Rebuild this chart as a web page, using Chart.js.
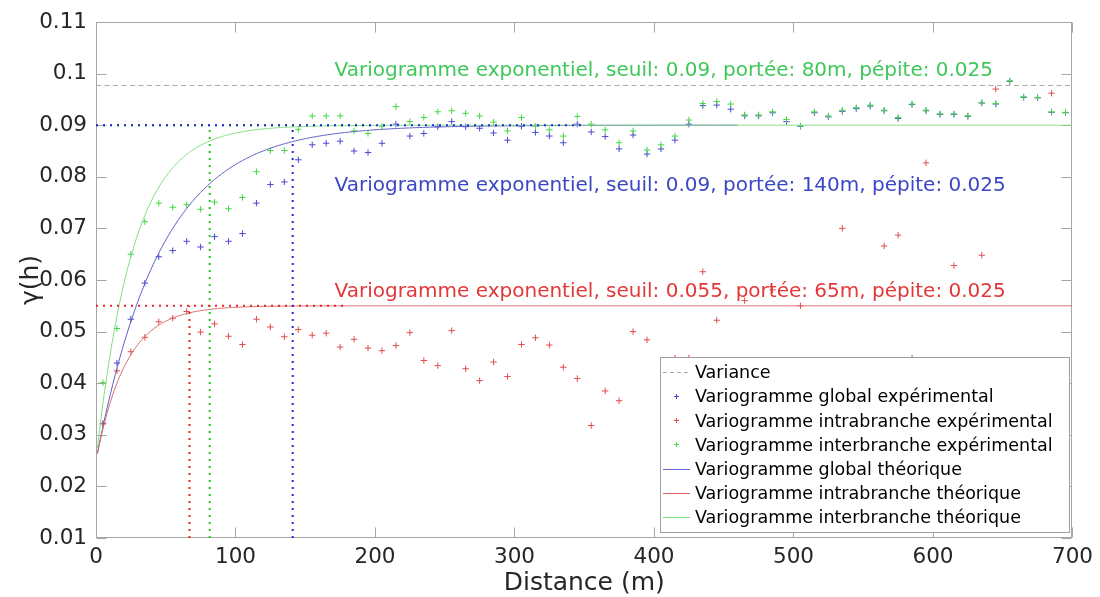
<!DOCTYPE html>
<html>
<head>
  <meta charset="utf-8">
  <title>Variogrammes</title>
  <script src="https://cdn.jsdelivr.net/npm/chart.js"></script>
  <style>
    body {
      margin: 0;
      padding: 0;
      background: #fff;
    }
    canvas {
      display: block;
    }
  </style>
</head>
<body>
  <canvas id="vario" width="1100" height="597"></canvas>

  <script>
    // distances des classes (m)
    const distances = [5, 15, 25, 35, 45, 55, 65, 75, 85, 95,
      105, 115, 125, 135, 145, 155, 165, 175, 185, 195,
      205, 215, 225, 235, 245, 255, 265, 275, 285, 295,
      305, 315, 325, 335, 345, 355, 365, 375, 385, 395,
      405, 415, 425, 435, 445, 455, 465, 475, 485, 495,
      505, 515, 525, 535, 545, 555, 565, 575, 585, 595,
      605, 615, 625, 635, 645, 655, 665, 675, 685, 695];

    // variogrammes expérimentaux (null = point caché par la légende)
    const globalExp = [0.0322, 0.0439, 0.0524, 0.0594, 0.0645, 0.0657, 0.0675, 0.0664, 0.0684, 0.0675,
      0.0690, 0.0749, 0.0785, 0.0790, 0.0833, 0.0862, 0.0865, 0.0869, 0.0850, 0.0847,
      0.0865, 0.0902, 0.0879, 0.0884, 0.0897, 0.0907, 0.0897, 0.0894, 0.0885, 0.0871,
      0.0898, 0.0886, 0.0879, 0.0866, 0.0902, 0.0887, 0.0878, 0.0854, 0.0881, 0.0844,
      0.0854, 0.0871, 0.0902, 0.0938, 0.0939, 0.0931, 0.0918, 0.0918, 0.0924, 0.0907,
      0.0898, 0.0924, 0.0916, 0.0927, 0.0932, 0.0937, 0.0928, 0.0913, 0.0940, 0.0928,
      0.0921, 0.0921, 0.0917, 0.0943, 0.0941, 0.0985, 0.0954, 0.0953, 0.0925, 0.0924];

    const intraExp = [0.0321, 0.0424, 0.0461, 0.0489, 0.0519, 0.0526, 0.0539, 0.0499, 0.0515, 0.0491,
      0.0475, 0.0524, 0.0509, 0.0490, 0.0504, 0.0493, 0.0497, 0.0470, 0.0485, 0.0468,
      0.0463, 0.0473, 0.0498, 0.0444, 0.0434, 0.0502, 0.0428, 0.0405, 0.0441, 0.0413,
      0.0475, 0.0488, 0.0474, 0.0431, 0.0409, 0.0318, 0.0385, 0.0366, 0.0500, 0.0484,
      null, 0.0449, 0.0449, 0.0616, 0.0522, null, 0.0560, null, 0.0581, null,
      0.0550, null, null, 0.0700, null, null, 0.0666, 0.0687, 0.0449, 0.0827,
      null, 0.0628, null, 0.0648, 0.0970, null, null, null, 0.0962, null];

    const interExp = [0.0401, 0.0506, 0.0650, 0.0713, 0.0749, 0.0741, 0.0746, 0.0737, 0.0751, 0.0738,
      0.0760, 0.0810, 0.0851, 0.0851, 0.0892, 0.0918, 0.0918, 0.0918, 0.0889, 0.0884,
      0.0898, 0.0936, 0.0907, 0.0915, 0.0926, 0.0928, 0.0923, 0.0918, 0.0906, 0.0889,
      0.0915, 0.0898, 0.0891, 0.0879, 0.0917, 0.0902, 0.0891, 0.0866, 0.0889, 0.0852,
      0.0862, 0.0879, 0.0910, 0.0942, 0.0946, 0.0941, 0.0920, 0.0920, 0.0926, 0.0911,
      0.0899, 0.0926, 0.0918, 0.0929, 0.0934, 0.0939, 0.0929, 0.0915, 0.0941, 0.0929,
      0.0922, 0.0922, 0.0918, 0.0944, 0.0942, 0.0986, 0.0955, 0.0954, 0.0926, 0.0925];

    // modèles exponentiels : global, intrabranche, interbranche
    const modelNames = ['global', 'intrabranche', 'interbranche'];
    const sills = [0.09, 0.055, 0.09];
    const ranges = [140, 65, 80];
    const nuggets = [0.025, 0.025, 0.025];
    const modelEnds = [460, 700, 700];      // longueur des courbes tracées
    const rangeMarks = [141, 67, 81.5];     // verticales pointillées
    const sillMarkEnds = [350, 178, 200];   // horizontales pointillées
    const variance = 0.0977;

    const xTicks = [0, 100, 200, 300, 400, 500, 600, 700];
    const yTicks = [0.01, 0.02, 0.03, 0.04, 0.05, 0.06, 0.07, 0.08, 0.09, 0.1, 0.11];

    const FONT = 'DejaVu Sans';
    const colPts = ['#4a4ad2', '#df4f4f', '#45d845'];
    const colCurve = ['#5c5cc6', '#da6c6c', '#82de82'];
    const colDot = ['#2828dc', '#e52828', '#1ec81e'];
    const colText = ['#3b47c6', '#e23838', '#3ec85a'];

    function pts(ys) {
      const out = [];
      ys.forEach((v, i) => { if (v !== null) out.push({ x: distances[i], y: v }); });
      return out;
    }

    function expModel(k) {
      const out = [];
      for (let h = 1; h <= modelEnds[k]; h++) {
        out.push({ x: h, y: nuggets[k] + (sills[k] - nuggets[k]) * (1 - Math.exp(-3 * h / ranges[k])) });
      }
      return out;
    }

    const expSeries = [globalExp, intraExp, interExp];
    const datasets = [];

    datasets.push({
      data: [{ x: 0, y: variance }, { x: 700, y: variance }],
      showLine: true, pointRadius: 0, borderColor: '#a8a8a8', borderWidth: 1, borderDash: [5, 3.5]
    });
    expSeries.forEach((s, k) => datasets.push({
      data: pts(s), pointStyle: 'cross', pointRadius: 3.2, pointBorderWidth: 1,
      pointBorderColor: colPts[k], pointBackgroundColor: colPts[k], showLine: false
    }));
    [0, 1, 2].forEach(k => datasets.push({
      data: expModel(k), showLine: true, pointRadius: 0, borderColor: colCurve[k], borderWidth: 1
    }));
    // repères pointillés portée / seuil (vert, rouge puis bleu au-dessus)
    [2, 1, 0].forEach(k => {
      datasets.push({
        data: [{ x: 0, y: sills[k] }, { x: sillMarkEnds[k], y: sills[k] }],
        showLine: true, pointRadius: 0, borderColor: colDot[k], borderWidth: 2, borderDash: [2, 5]
      });
      datasets.push({
        data: [{ x: rangeMarks[k], y: 0.01 }, { x: rangeMarks[k], y: sills[k] }],
        showLine: true, pointRadius: 0, borderColor: colDot[k], borderWidth: 2, borderDash: [2, 5]
      });
    });
    datasets.forEach((d, i) => { d.order = datasets.length - i; });

    const annotations = [
      { k: 2, x: 171, y: 0.0995, text: 'Variogramme exponentiel, seuil: 0.09, portée: 80m, pépite: 0.025' },
      { k: 0, x: 171, y: 0.0773, text: 'Variogramme exponentiel, seuil: 0.09, portée: 140m, pépite: 0.025' },
      { k: 1, x: 171, y: 0.0568, text: 'Variogramme exponentiel, seuil: 0.055, portée: 65m, pépite: 0.025' }
    ];

    const legendItems = [
      { kind: 'dash', color: '#a8a8a8', text: 'Variance' },
      { kind: 'cross', color: colPts[0], text: 'Variogramme global expérimental' },
      { kind: 'cross', color: colPts[1], text: 'Variogramme intrabranche expérimental' },
      { kind: 'cross', color: colPts[2], text: 'Variogramme interbranche expérimental' },
      { kind: 'line', color: '#6464d6', text: 'Variogramme global théorique' },
      { kind: 'line', color: '#e06464', text: 'Variogramme intrabranche théorique' },
      { kind: 'line', color: '#74e074', text: 'Variogramme interbranche théorique' }
    ];

    // cadre, graduations intérieures, textes et légende
    const decor = {
      id: 'decor',
      beforeDatasetsDraw(chart) {
        const { ctx, chartArea: a, scales: { x, y } } = chart;
        ctx.save();
        ctx.strokeStyle = '#a6a6a6';
        ctx.lineWidth = 1;
        const L = Math.round(a.left) + 0.5, R = Math.round(a.right) - 0.5;
        const T = Math.round(a.top) + 0.5, B = Math.round(a.bottom) - 0.5;
        ctx.strokeRect(L, T, R - L, B - T);
        ctx.beginPath();
        xTicks.forEach(v => {
          const px = Math.round(x.getPixelForValue(v)) + 0.5;
          ctx.moveTo(px, B); ctx.lineTo(px, B - 10);
          ctx.moveTo(px, T); ctx.lineTo(px, T + 10);
        });
        yTicks.forEach(v => {
          const py = Math.round(y.getPixelForValue(v)) + 0.5;
          ctx.moveTo(L, py); ctx.lineTo(L + 10, py);
          ctx.moveTo(R, py); ctx.lineTo(R - 10, py);
        });
        ctx.stroke();
        ctx.restore();
      },
      afterDatasetsDraw(chart) {
        const { ctx, chartArea: a, scales: { x, y } } = chart;
        ctx.save();

        ctx.font = '20px "' + FONT + '"';
        ctx.textBaseline = 'alphabetic';
        ctx.textAlign = 'left';
        annotations.forEach(t => {
          ctx.fillStyle = colText[t.k];
          ctx.fillText(t.text, x.getPixelForValue(t.x), y.getPixelForValue(t.y));
        });

        // légende
        const lx = 660, ly = 357, lw = 409, lh = 175;
        ctx.fillStyle = '#fff';
        ctx.fillRect(lx, ly, lw, lh);
        ctx.strokeStyle = '#a0a0a0';
        ctx.lineWidth = 1;
        ctx.strokeRect(lx + 0.5, ly + 0.5, lw, lh);
        ctx.font = '17.5px "' + FONT + '"';
        legendItems.forEach((it, i) => {
          const cy = 371.7 + i * 24.2;
          const yl = Math.round(cy) + 0.5;
          ctx.strokeStyle = it.color;
          ctx.lineWidth = 1;
          ctx.beginPath();
          if (it.kind === 'cross') {
            ctx.moveTo(674, yl); ctx.lineTo(679, yl);
            ctx.moveTo(676.5, yl - 2.5); ctx.lineTo(676.5, yl + 2.5);
            ctx.setLineDash([]);
          } else {
            ctx.setLineDash(it.kind === 'dash' ? [4, 3] : []);
            ctx.moveTo(663, yl); ctx.lineTo(690, yl);
          }
          ctx.stroke();
          ctx.setLineDash([]);
          ctx.fillStyle = '#000';
          ctx.fillText(it.text, 695, cy + 6.4);
        });

        // titres des axes
        ctx.fillStyle = '#262626';
        ctx.font = '25px "' + FONT + '"';
        ctx.textAlign = 'center';
        ctx.textBaseline = 'alphabetic';
        ctx.fillText('Distance (m)', (a.left + a.right) / 2, 590);
        ctx.translate(38, (a.top + a.bottom) / 2);
        ctx.rotate(-Math.PI / 2);
        ctx.fillText('γ(h)', 0, 0);
        ctx.restore();
      }
    };

    const tickFont = { family: FONT, size: 21.5 };

    new Chart(document.getElementById('vario'), {
      type: 'scatter',
      data: { datasets },
      options: {
        responsive: false,
        animation: false,
        events: [],
        layout: { padding: { top: 22, right: 24, left: 0, bottom: 0 } },
        plugins: { legend: { display: false }, tooltip: { enabled: false } },
        scales: {
          x: {
            type: 'linear', min: 0, max: 700,
            afterBuildTicks: s => { s.ticks = xTicks.map(v => ({ value: v })); },
            ticks: { font: tickFont, color: '#262626', padding: 7, maxRotation: 0, autoSkip: false },
            grid: { display: false, drawTicks: false },
            border: { display: false },
            afterFit: s => { s.height = 59; }
          },
          y: {
            type: 'linear', min: 0.01, max: 0.11,
            afterBuildTicks: s => { s.ticks = yTicks.map(v => ({ value: v })); },
            ticks: {
              font: tickFont, color: '#262626', padding: 9, autoSkip: false,
              callback: v => String(parseFloat(v.toFixed(2)))
            },
            grid: { display: false, drawTicks: false },
            border: { display: false },
            afterFit: s => { s.width = 96; }
          }
        }
      },
      plugins: [decor]
    });
  </script>
</body>
</html>
